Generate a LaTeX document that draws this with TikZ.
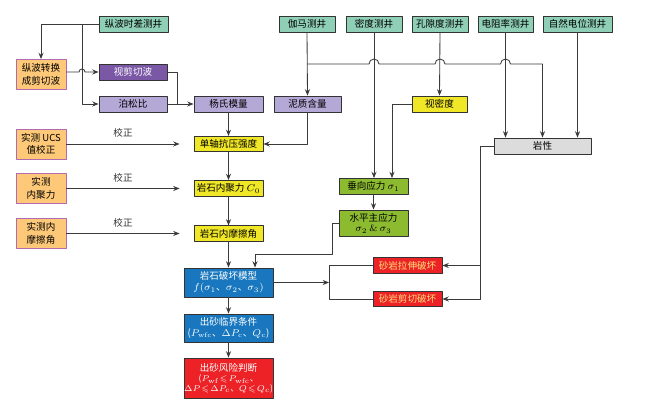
\documentclass[tikz,border=0pt]{standalone}
\usepackage{amssymb}
\usepackage{fontspec}
\newfontfamily\cjk{Noto Sans CJK SC}
\usetikzlibrary{arrows.meta}
\definecolor{logc}{HTML}{8ECFB5}
\definecolor{orgc}{HTML}{FDC878}
\definecolor{orgd}{HTML}{B46AAE}
\definecolor{ppd}{HTML}{7B58A6}
\definecolor{ppl}{HTML}{B4A8D6}
\definecolor{ylw}{HTML}{F0E726}
\definecolor{grn}{HTML}{8DBB2F}
\definecolor{blu}{HTML}{1877BE}
\definecolor{rd}{HTML}{EC2227}
\definecolor{gry}{HTML}{DCDCDC}
\definecolor{lnc}{HTML}{3A3A3A}
\definecolor{lyl}{HTML}{FFE27A}
\begin{document}
\begin{tikzpicture}[x=0.25mm, y=-0.25mm, line join=round,
	>={Stealth[length=4.5pt,width=3.6pt]},
	font=\cjk\fontsize{6.8}{7.6}\selectfont,
	box/.style={draw=black!80, line width=0.6pt, inner sep=0pt, align=center,
		minimum width={#1*0.25mm}, minimum height=4mm},
	box/.default=69,
	logbox/.style={box=#1, fill=logc},
	logbox/.default=56,
	testbox/.style={box=50, fill=orgc, draw=orgd, minimum height=7.5mm,
		font=\cjk\fontsize{6.8}{9}\selectfont},
	ppdbox/.style={box=68, fill=ppd, text=white},
	pplbox/.style={box=#1, fill=ppl},
	pplbox/.default=68,
	ylwbox/.style={box=#1, fill=ylw},
	ylwbox/.default=69,
	grnbox/.style={box, fill=grn},
	blubox/.style={box=89, fill=blu, text=white},
	redbox/.style={box=69, fill=rd, text=lyl, minimum height=3.9mm},
	conn/.style={lnc, line width=0.6pt}]
\useasboundingbox (0,0) rectangle (650,404);

\node[logbox=69] (zsc) at (133.5,24) {纵波时差测井};
\node[logbox] (gm) at (307,24) {伽马测井};
\node[logbox] (md) at (374,24) {密度测井};
\node[logbox] (kx) at (440,24) {孔隙度测井};
\node[logbox=55] (dzl) at (505.5,24) {电阻率测井};
\node[logbox=69] (zr) at (577.5,24) {自然电位测井};

\node[testbox] (zh) at (41,74.5) {纵波转换\\成剪切波};
\node[ppdbox] (sjq) at (133,72) {视剪切波};
\node[pplbox] (bsb) at (133,104) {泊松比};
\node[pplbox=69] (ysm) at (228.5,104) {杨氏模量};
\node[pplbox=67] (nz) at (307.5,104) {泥质含量};
\node[ylwbox=55] (smd) at (439.5,104) {视密度};
\node[box=97, fill=gry] (yx) at (542.5,146) {岩性};

\node[testbox] (ucs) at (41,144) {实测 UCS\\值校正};
\node[ylwbox, minimum height=3.8mm] (dzk) at (228.5,144) {单轴抗压强度};
\node[testbox] (snj) at (41,188.5) {实测\\内聚力};
\node[ylwbox] (nj) at (228.5,188.5) {岩石内聚力 $C_0$};
\node[testbox] (smc) at (41,233.5) {实测内\\摩擦角};
\node[ylwbox, minimum height=3.8mm] (mc) at (228.5,233.5) {岩石内摩擦角};

\node[grnbox] (cx) at (373.5,186.5) {垂向应力 $\sigma_1$};
\node[grnbox, minimum height=6.5mm] (sp) at (373.5,223) {水平主应力\\$\sigma_2\,\&\,\sigma_3$};

\node[blubox, minimum height=7.25mm] (phmx) at (228.5,282.5)
	{岩石破坏模型\\$f(\sigma_1$、$\sigma_2$、$\sigma_3)$};
\node[blubox, minimum height=7mm] (ljtj) at (228.5,328)
	{出砂临界条件\\($P_{\rm wfc}$、$\Delta P_{\rm c}$、$Q_{\rm c}$)};
\node[blubox, fill=rd, minimum height=10mm, font=\cjk\fontsize{6.8}{7.2}\selectfont] (fx) at (228.5,378)
	{出砂风险判断\\{\fontsize{6}{7}\selectfont($P_{\rm wf}\!\leqslant\! P_{\rm wfc}$、}\\
	{\fontsize{6}{7}\selectfont$\Delta P\!\leqslant\!\Delta P_{\rm c}$、$Q\!\leqslant\! Q_{\rm c}$)}};

\node[redbox] (ls) at (407.5,265.5) {砂岩拉伸破坏};
\node[redbox] (jq) at (407.5,299) {砂岩剪切破坏};

\coordinate (zsplit) at (82,24);
\coordinate (ymerge) at (177,104);
\coordinate (cxin) at (392,186.5);
\coordinate (phin) at (255,282.5);
\coordinate (lsplit) at (329,282.5);
\coordinate (rsplit) at (480,265.5);

\draw[conn,->] (zsc.west) -| (zh.north);
\draw[conn,->] (zsplit) |- (bsb.west);
\draw[conn,->] (zh.east|-sjq.west) -- (79,72) arc[start angle=180, end angle=0, radius=0.75mm] -- (sjq.west);
\draw[conn] (sjq.east) -| (ymerge);
\draw[conn,->] (bsb.east) -- (ysm.west);
\draw[conn,->] (ysm.south) -- (dzk.north);

\draw[conn,->] (gm.south) -- (nz.north);
\draw[conn,->] (gm.south|-0,64) -- (369,64) arc[start angle=180, end angle=0, radius=1.25mm]
	-- (435,64) arc[start angle=180, end angle=0, radius=1.25mm]
	-- (500.5,64) arc[start angle=180, end angle=0, radius=1.25mm]
	-| (yx.north);
\draw[conn,->] (md.south) -- (md.south|-cx.north);
\draw[conn,->] (kx.south) -- (smd.north);
\draw[conn,->] (smd.west) -| (cxin|-cx.north);
\draw[conn,->] (dzl.south) -- (dzl.south|-yx.north);
\draw[conn,->] (zr.south) -- (zr.south|-yx.north);
\draw[conn,->] (nz.south) |- (dzk.east);

\foreach \a/\b in {ucs/dzk, snj/nj, smc/mc}
	\draw[conn,->] (\a.east) -- ([xshift=-3.5mm]\b.west) node[midway, above=1pt, text=black!80] {校正};
\draw[conn,->] (dzk.south) -- (nj.north);
\draw[conn,->] (nj.south) -- (mc.north);
\draw[conn,->] (mc.south) -- (phmx.north);

\draw[conn,->] (cx.south) -- (sp.north);
\draw[conn,->] (sp.west) -| (332,254) -| (phin|-phmx.north);

\draw[conn,->] (yx.west) -| (rsplit|-jq.east) -- (jq.east);
\draw[conn,->] (rsplit) -- (ls.east);
\draw[conn] (ls.west) -| (lsplit|-jq.west) -- (jq.west);
\draw[conn,->] (phmx.east) -- (lsplit);

\draw[conn,->] (phmx.south) -- (ljtj.north);
\draw[conn,->] (ljtj.south) -- (fx.north);
\end{tikzpicture}
\end{document}
